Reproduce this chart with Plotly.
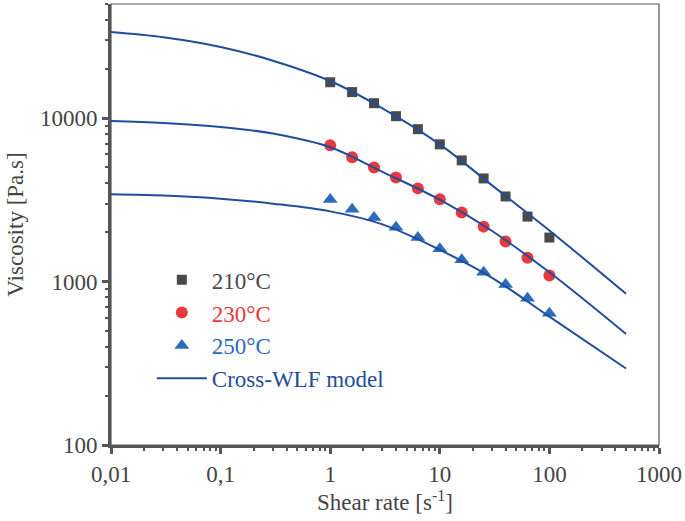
import plotly.graph_objects as go

# ---- data ----
shear = [1, 1.585, 2.512, 3.981, 6.31, 10, 15.85, 25.12, 39.81, 63.1, 100]
eta210 = [16600, 14450, 12360, 10290, 8570, 6920, 5520, 4280, 3320, 2500, 1860]
eta230 = [6820, 5770, 5000, 4340, 3720, 3190, 2650, 2170, 1760, 1400, 1090]
eta250 = [3180, 2770, 2470, 2150, 1860, 1590, 1360, 1140, 960, 790, 640]

x_fit = [0.01, 0.03, 0.1, 0.3, 1, 3, 10, 30, 100, 500]
fit210 = [33700, 31300, 27300, 22500, 16900, 11500, 6920, 3880, 2055, 843]
fit230 = [9620, 9360, 8850, 8060, 6640, 4690, 3170, 2040, 1140, 478]
fit250 = [3420, 3360, 3220, 3000, 2690, 2240, 1565, 1055, 610, 294]

x_tickvals = [0.01, 0.1, 1, 10, 100, 1000]
x_ticktext = ["0,01", "0,1", "1", "10", "100", "1000"]
y_tickvals = [100, 1000, 10000]
y_ticktext = ["100", "1000", "10000"]

FONT = "Liberation Serif, Times New Roman, Times, DejaVu Serif, serif"
C210 = "#4a4a4a"
C230 = "#e8393d"
C250 = "#2d6bbd"
CLINE = "#1f4e9c"

fig = go.Figure()
fig.add_trace(go.Scatter(x=shear, y=eta210, mode="markers",
                         marker=dict(symbol="square", size=10, color=C210),
                         name=f"<span style='color:{C210}'>210°C</span>"))
fig.add_trace(go.Scatter(x=shear, y=eta230, mode="markers",
                         marker=dict(symbol="circle", size=12, color=C230),
                         name=f"<span style='color:{C230}'>230°C</span>"))
fig.add_trace(go.Scatter(x=shear, y=eta250, mode="markers",
                         marker=dict(symbol="triangle-up", size=13, color=C250),
                         name=f"<span style='color:{C250}'>250°C</span>"))
for i, fy in enumerate([fit210, fit230, fit250]):
    fig.add_trace(go.Scatter(x=x_fit, y=fy, mode="lines",
                             line=dict(color=CLINE, width=2, shape="spline"),
                             name=f"<span style='color:{CLINE}'>Cross-WLF model</span>",
                             showlegend=(i == 0)))

def minor_vals(lo, hi):
    vals = []
    d = lo
    while d < hi:
        for k in range(2, 10):
            v = k * d
            if v <= hi:
                vals.append(v)
        d *= 10
    return vals

axis_common = dict(
    type="log", showgrid=False, zeroline=False,
    showline=True, linecolor="#555555", linewidth=3,
    ticks="outside", ticklen=6, tickwidth=2.5, tickcolor="#555555",
    tickfont=dict(family=FONT, size=23, color="#444444"),
)

fig.update_xaxes(**axis_common, range=[-2, 3], tickmode="array",
                 tickvals=x_tickvals, ticktext=x_ticktext,
                 minor=dict(tickmode="array", tickvals=minor_vals(0.01, 1000),
                            ticks="outside", ticklen=3, tickwidth=2, tickcolor="#555555"),
                 title=dict(text="Shear rate [s<sup>-1</sup>]",
                            font=dict(family=FONT, size=23, color="#444444"), standoff=8))
fig.update_yaxes(**axis_common, range=[2, 4.699], tickmode="array",
                 tickvals=y_tickvals, ticktext=y_ticktext,
                 minor=dict(tickmode="array", tickvals=minor_vals(100, 50000),
                            ticks="outside", ticklen=3, tickwidth=2, tickcolor="#555555"),
                 title=dict(text="Viscosity [Pa.s]",
                            font=dict(family=FONT, size=23, color="#444444"), standoff=10))

fig.add_shape(type="rect", xref="paper", yref="paper", x0=0, x1=1, y0=0, y1=1,
              line=dict(color="#555555", width=1.2), layer="below")

fig.update_layout(
    width=685, height=521,
    margin=dict(l=111, r=26, t=4, b=76, autoexpand=False),
    paper_bgcolor="white", plot_bgcolor="white",
    font=dict(family=FONT, size=23),
    legend=dict(x=0.0745, y=0.4236, xanchor="left", yanchor="top",
                bgcolor="rgba(0,0,0,0)", font=dict(family=FONT, size=23),
                itemwidth=50, tracegroupgap=0),
    showlegend=True,
)

fig.write_html("out.html", config={"displayModeBar": False},
               post_script="document.body.style.margin='0';document.body.style.padding='0';")
